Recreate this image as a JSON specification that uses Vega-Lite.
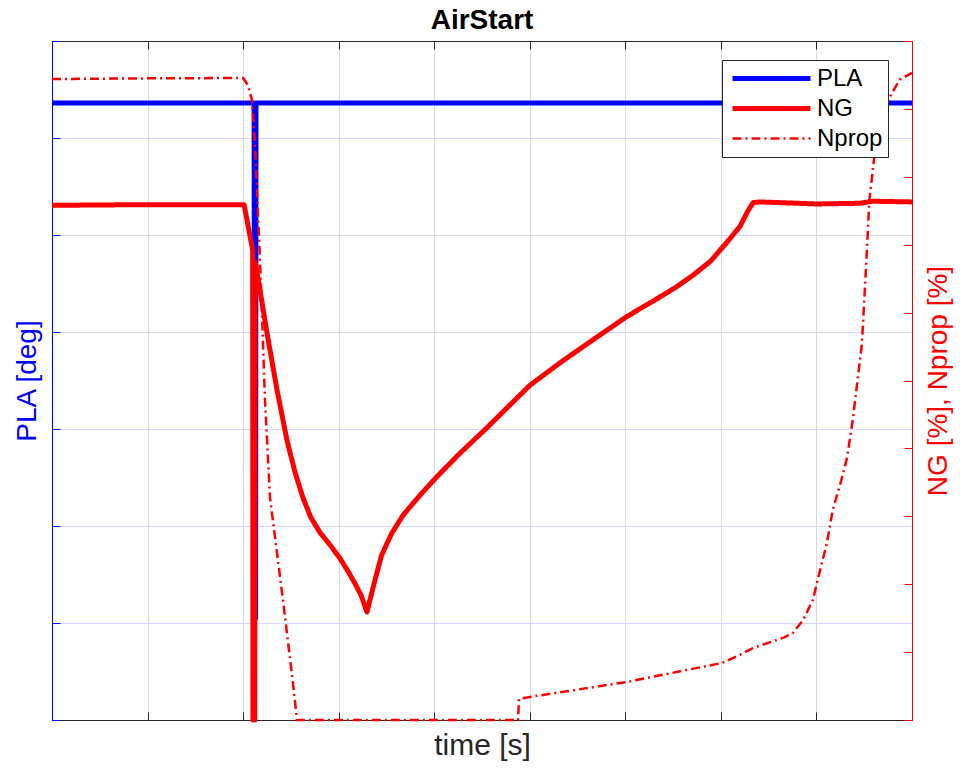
{
  "$schema": "https://vega.github.io/schema/vega-lite/v6.json",
  "width": 860,
  "height": 679,
  "autosize": {"type": "none"},
  "padding": {"left": 52, "top": 41, "right": 54, "bottom": 51},
  "background": "white",
  "title": {"text": "AirStart", "font": "Liberation Sans", "fontSize": 28, "fontWeight": "bold", "color": "black", "anchor": "middle", "baseline": "alphabetic", "offset": -16},
  "config": {
    "view": {"stroke": null},
    "axis": {"labels": false, "tickSize": -8, "titleFont": "Liberation Sans", "titleFontWeight": "normal", "titleFontSize": 28, "domainWidth": 1, "tickWidth": 1},
    "legend": {"orient": "none", "legendX": 670, "legendY": 19, "strokeColor": "#262626", "fillColor": "white", "padding": 5, "symbolType": "stroke", "symbolSize": 6084, "clipHeight": 27, "rowPadding": 3, "symbolOffset": 3, "labelOffset": 4, "labelFont": "Liberation Sans", "labelFontSize": 24, "labelColor": "black", "title": null}
  },
  "datasets": {
    "pla": [
      {"t": 0, "v": 63.6, "series": "PLA"},
      {"t": 2.115, "v": 63.6, "series": "PLA"},
      {"t": 2.12, "v": 10.5, "series": "PLA"},
      {"t": 2.13, "v": 10.5, "series": "PLA"},
      {"t": 2.135, "v": 63.6, "series": "PLA"},
      {"t": 9, "v": 63.6, "series": "PLA"}
    ],
    "rpm": [
      {"t": 0, "v": 75.8, "series": "NG"},
      {"t": 1.0, "v": 75.9, "series": "NG"},
      {"t": 2.01, "v": 75.9, "series": "NG"},
      {"t": 2.1, "v": 69.2, "series": "NG"},
      {"t": 2.103, "v": 0, "series": "NG"},
      {"t": 2.122, "v": 0, "series": "NG"},
      {"t": 2.125, "v": 67.5, "series": "NG"},
      {"t": 2.177, "v": 63.3, "series": "NG"},
      {"t": 2.25, "v": 57.0, "series": "NG"},
      {"t": 2.355, "v": 48.6, "series": "NG"},
      {"t": 2.459, "v": 41.2, "series": "NG"},
      {"t": 2.543, "v": 36.5, "series": "NG"},
      {"t": 2.627, "v": 32.7, "series": "NG"},
      {"t": 2.71, "v": 29.8, "series": "NG"},
      {"t": 2.805, "v": 27.6, "series": "NG"},
      {"t": 2.909, "v": 25.8, "series": "NG"},
      {"t": 3.014, "v": 23.8, "series": "NG"},
      {"t": 3.098, "v": 21.9, "series": "NG"},
      {"t": 3.171, "v": 20.1, "series": "NG"},
      {"t": 3.234, "v": 18.4, "series": "NG"},
      {"t": 3.296, "v": 15.9, "series": "NG"},
      {"t": 3.38, "v": 20.6, "series": "NG"},
      {"t": 3.45, "v": 24.3, "series": "NG"},
      {"t": 3.555, "v": 27.5, "series": "NG"},
      {"t": 3.676, "v": 30.2, "series": "NG"},
      {"t": 3.851, "v": 33.1, "series": "NG"},
      {"t": 4.026, "v": 35.8, "series": "NG"},
      {"t": 4.27, "v": 39.3, "series": "NG"},
      {"t": 4.549, "v": 43.0, "series": "NG"},
      {"t": 4.793, "v": 46.4, "series": "NG"},
      {"t": 5.002, "v": 49.3, "series": "NG"},
      {"t": 5.316, "v": 52.6, "series": "NG"},
      {"t": 5.662, "v": 56.0, "series": "NG"},
      {"t": 6.014, "v": 59.4, "series": "NG"},
      {"t": 6.362, "v": 62.3, "series": "NG"},
      {"t": 6.537, "v": 63.8, "series": "NG"},
      {"t": 6.708, "v": 65.5, "series": "NG"},
      {"t": 6.886, "v": 67.5, "series": "NG"},
      {"t": 7.06, "v": 70.3, "series": "NG"},
      {"t": 7.2, "v": 72.7, "series": "NG"},
      {"t": 7.287, "v": 75.1, "series": "NG"},
      {"t": 7.339, "v": 76.2, "series": "NG"},
      {"t": 7.409, "v": 76.3, "series": "NG"},
      {"t": 8.005, "v": 76.0, "series": "NG"},
      {"t": 8.455, "v": 76.1, "series": "NG"},
      {"t": 8.59, "v": 76.4, "series": "NG"},
      {"t": 9.0, "v": 76.3, "series": "NG"},
      {"t": 0, "v": 94.4, "series": "Nprop"},
      {"t": 1.0, "v": 94.5, "series": "Nprop"},
      {"t": 2.0, "v": 94.55, "series": "Nprop"},
      {"t": 2.05, "v": 93.5, "series": "Nprop"},
      {"t": 2.093, "v": 91.3, "series": "Nprop"},
      {"t": 2.124, "v": 85.0, "series": "Nprop"},
      {"t": 2.177, "v": 67.7, "series": "Nprop"},
      {"t": 2.229, "v": 47.1, "series": "Nprop"},
      {"t": 2.281, "v": 32.8, "series": "Nprop"},
      {"t": 2.417, "v": 17.7, "series": "Nprop"},
      {"t": 2.522, "v": 5.4, "series": "Nprop"},
      {"t": 2.564, "v": 0, "series": "Nprop"},
      {"t": 4.877, "v": 0, "series": "Nprop"},
      {"t": 4.887, "v": 3.1, "series": "Nprop"},
      {"t": 5.002, "v": 3.4, "series": "Nprop"},
      {"t": 6.017, "v": 5.6, "series": "Nprop"},
      {"t": 7.011, "v": 8.4, "series": "Nprop"},
      {"t": 7.2, "v": 9.6, "series": "Nprop"},
      {"t": 7.336, "v": 10.6, "series": "Nprop"},
      {"t": 7.65, "v": 12.1, "series": "Nprop"},
      {"t": 7.754, "v": 12.8, "series": "Nprop"},
      {"t": 7.859, "v": 14.7, "series": "Nprop"},
      {"t": 7.964, "v": 17.7, "series": "Nprop"},
      {"t": 8.005, "v": 20.2, "series": "Nprop"},
      {"t": 8.11, "v": 26.1, "series": "Nprop"},
      {"t": 8.17, "v": 30.9, "series": "Nprop"},
      {"t": 8.25, "v": 34.8, "series": "Nprop"},
      {"t": 8.32, "v": 38.6, "series": "Nprop"},
      {"t": 8.38, "v": 44.2, "series": "Nprop"},
      {"t": 8.476, "v": 55.4, "series": "Nprop"},
      {"t": 8.529, "v": 69.4, "series": "Nprop"},
      {"t": 8.554, "v": 76.6, "series": "Nprop"},
      {"t": 8.602, "v": 82.5, "series": "Nprop"},
      {"t": 8.665, "v": 87.6, "series": "Nprop"},
      {"t": 8.77, "v": 91.8, "series": "Nprop"},
      {"t": 8.87, "v": 94.3, "series": "Nprop"},
      {"t": 9.0, "v": 95.3, "series": "Nprop"}
    ]
  },
  "layer": [
    {
      "data": {"name": "pla"},
      "mark": {"type": "line", "strokeJoin": "round", "strokeCap": "butt"},
      "encoding": {
        "x": {"field": "t", "type": "quantitative", "scale": {"domain": [0, 9], "nice": false, "zero": false},
          "axis": {"orient": "bottom", "title": "time [s]", "titleFontSize": 30, "values": [0, 1, 2, 3, 4, 5, 6, 7, 8, 9], "grid": true, "gridColor": "#d9d9d9", "domainColor": "#262626", "tickColor": "#262626", "titleColor": "#262626", "titlePadding": 10}},
        "y": {"field": "v", "type": "quantitative", "scale": {"domain": [0, 70], "nice": false, "zero": false},
          "axis": {"orient": "left", "title": "PLA [deg]", "values": [0, 10, 20, 30, 40, 50, 60, 70], "grid": true, "gridColor": "#d6d6ff", "domainColor": "#0000ff", "tickColor": "#0000ff", "titleColor": "#0000ff", "titlePadding": 10}},
        "color": {"field": "series", "type": "nominal", "scale": {"domain": ["PLA", "NG", "Nprop"], "range": ["#0000ff", "#ff0000", "#ff0000"]}},
        "strokeDash": {"field": "series", "type": "nominal", "scale": {"domain": ["PLA", "NG", "Nprop"], "range": [[1, 0], [1, 0], [9, 4, 2, 4]]}},
        "strokeWidth": {"field": "series", "type": "ordinal", "scale": {"type": "ordinal", "domain": ["PLA", "NG", "Nprop"], "range": [5, 5, 2.5]}}
      }
    },
    {
      "data": {"name": "rpm"},
      "mark": {"type": "line", "strokeJoin": "round", "strokeCap": "butt"},
      "encoding": {
        "x": {"field": "t", "type": "quantitative", "scale": {"domain": [0, 9], "nice": false, "zero": false},
          "axis": {"orient": "top", "title": null, "values": [0, 1, 2, 3, 4, 5, 6, 7, 8, 9], "grid": false, "domainColor": "#262626", "tickColor": "#262626"}},
        "y": {"field": "v", "type": "quantitative", "scale": {"domain": [0, 100], "nice": false, "zero": false},
          "axis": {"orient": "right", "title": "NG [%], Nprop [%]", "titleFontSize": 28, "values": [0, 10, 20, 30, 40, 50, 60, 70, 80, 90, 100], "grid": false, "domainColor": "#ff0000", "tickColor": "#ff0000", "titleColor": "#ff0000", "titleAngle": 270, "titleBaseline": "top", "titlePadding": 12}},
        "color": {"field": "series", "type": "nominal", "scale": {"domain": ["PLA", "NG", "Nprop"], "range": ["#0000ff", "#ff0000", "#ff0000"]}},
        "strokeDash": {"field": "series", "type": "nominal", "scale": {"domain": ["PLA", "NG", "Nprop"], "range": [[1, 0], [1, 0], [9, 4, 2, 4]]}},
        "strokeWidth": {"field": "series", "type": "ordinal", "scale": {"type": "ordinal", "domain": ["PLA", "NG", "Nprop"], "range": [5, 5, 2.5]}}
      }
    }
  ],
  "resolve": {"scale": {"y": "independent"}, "axis": {"x": "independent", "y": "independent"}}
}
